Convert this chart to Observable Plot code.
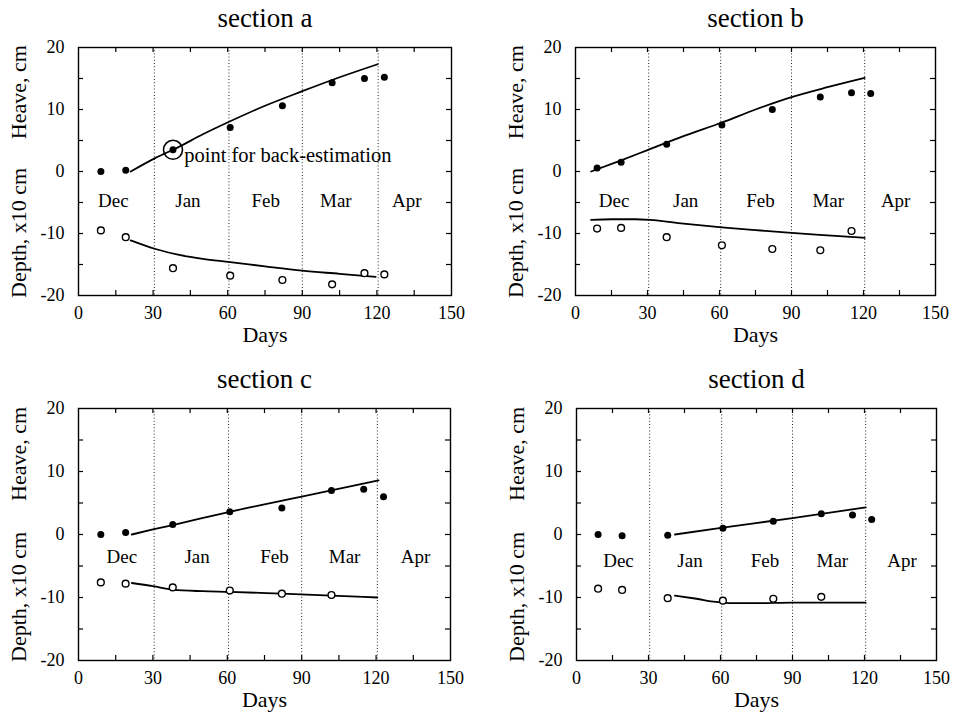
<!DOCTYPE html>
<html>
<head>
<meta charset="utf-8">
<script src="https://cdn.jsdelivr.net/npm/d3@7"></script>
<script src="https://cdn.jsdelivr.net/npm/@observablehq/plot@0.6"></script>
<style>
  html, body { margin: 0; padding: 0; background: #fff; }
  #wrap { position: relative; width: 974px; height: 713px; overflow: hidden; }
  .panel { position: absolute; }
</style>
</head>
<body>
<div id="wrap"></div>
<script>
// ---------- data ----------
const sectionTitles = ["section a", "section b", "section c", "section d"];
const xTickLabels = [0, 30, 60, 90, 120, 150];
const yTickLabels = [-20, -10, 0, 10, 20];
const xMinorTicks = [15, 30, 45, 60, 75, 90, 105, 120, 135];
const yMinorTicks = [-15, -10, -5, 0, 5, 10, 15];
const monthNames = ["Dec", "Jan", "Feb", "Mar", "Apr"];
const monthBounds = [30.5, 60.5, 90, 120.5];
const yLabelTexts = ["Heave, cm", "Depth, x10 cm"];
const yLabelAt = [12.8, -9.9];
const annotationText = "point for back-estimation";

// measurement days
const measuredDays = [9, 19, 38, 61, 82, 102, 115, 123];

// measured heave (filled dots) and frost depth (open dots)
const heaveA = [0, 0.2, 3.5, 7.1, 10.6, 14.3, 15.0, 15.2];
const depthA = [-9.5, -10.6, -15.6, -16.8, -17.5, -18.2, -16.4, -16.6];
const heaveB = [0.55, 1.5, 4.4, 7.5, 10.0, 12.0, 12.7, 12.6];
const depthB = [-9.2, -9.1, -10.6, -11.9, -12.5, -12.7, -9.6];
const heaveC = [0, 0.3, 1.6, 3.6, 4.2, 7.0, 7.2, 6.0];
const depthC = [-7.6, -7.8, -8.4, -8.9, -9.4, -9.6];
const heaveD = [0, -0.2, -0.1, 1.0, 2.1, 3.3, 3.1, 2.4];
const depthD = [-8.6, -8.8, -10.1, -10.5, -10.2, -9.9];

// calculated curves
const calcHeaveDaysA = [21, 31, 40, 50, 61, 75, 90, 105, 120.3];
const calcHeaveA = [0, 2.2, 3.9, 6.0, 8.1, 10.6, 12.95, 15.2, 17.3];
const calcDepthDaysA = [21, 31, 41, 50, 61, 75, 90, 105, 119.5];
const calcDepthA = [-11.1, -12.5, -13.5, -14.1, -14.6, -15.3, -16.0, -16.5, -17.0];

const calcHeaveDaysB = [6.5, 19, 30, 45, 61, 75, 90, 105, 120.5];
const calcHeaveB = [0, 1.8, 3.45, 5.7, 7.9, 10.0, 12.0, 13.6, 15.1];
const calcDepthDaysB = [6.5, 15, 25, 31, 45, 61, 75, 90, 105, 120.5];
const calcDepthB = [-7.8, -7.7, -7.7, -7.8, -8.4, -9.0, -9.45, -9.9, -10.3, -10.7];

const calcHeaveDaysC = [21.5, 30, 38, 61, 90, 121];
const calcHeaveC = [0, 0.8, 1.5, 3.6, 6.0, 8.6];
const calcDepthDaysC = [21.5, 30, 38, 50, 61, 82, 102, 120.5];
const calcDepthC = [-7.7, -8.2, -8.75, -9.0, -9.1, -9.4, -9.7, -10.0];

const calcHeaveDaysD = [41, 61, 90, 120.5];
const calcHeaveD = [0, 1.1, 2.6, 4.3];
const calcDepthDaysD = [41, 50, 58, 65, 75, 90, 120.5];
const calcDepthD = [-9.7, -10.2, -10.7, -10.9, -10.9, -10.8, -10.8];

// month label positions (day) per panel and their level
const monthDaysA = [14, 44, 75.3, 103.5, 132];
const monthDaysB = [16.1, 45.9, 77.1, 105.3, 133.4];
const monthDaysC = [17.5, 47.8, 79, 107.3, 135.9];
const monthDaysD = [17.5, 47.3, 78.5, 106.6, 135.6];
const monthLevel = [-4.8, -4.8, -3.6, -4.2];

// ---------- layout ----------
const layouts = [
  {left: 0,   top: 0,   width: 487, height: 356, ml: 78, mr: 36, mt: 47, mb: 61},
  {left: 487, top: 0,   width: 487, height: 356, ml: 88, mr: 39, mt: 47, mb: 61},
  {left: 0,   top: 356, width: 487, height: 357, ml: 78, mr: 37, mt: 52, mb: 53},
  {left: 487, top: 356, width: 487, height: 357, ml: 89, mr: 38, mt: 52, mb: 53}
];

const zipXY = (xs, ys) => ys.map((v, i) => ({x: xs[i], y: v}));

const panels = [
  {heave: heaveA, depth: depthA, ch: [calcHeaveDaysA, calcHeaveA], cd: [calcDepthDaysA, calcDepthA], months: monthDaysA, annotate: true},
  {heave: heaveB, depth: depthB, ch: [calcHeaveDaysB, calcHeaveB], cd: [calcDepthDaysB, calcDepthB], months: monthDaysB},
  {heave: heaveC, depth: depthC, ch: [calcHeaveDaysC, calcHeaveC], cd: [calcDepthDaysC, calcDepthC], months: monthDaysC},
  {heave: heaveD, depth: depthD, ch: [calcHeaveDaysD, calcHeaveD], cd: [calcDepthDaysD, calcDepthD], months: monthDaysD}
];

const FONT = "'Liberation Serif', 'Times New Roman', 'DejaVu Serif', serif";
const wrap = document.getElementById("wrap");

panels.forEach((p, i) => {
  const L = layouts[i];
  const W = L.width - L.ml - L.mr;
  const H = L.height - L.mt - L.mb;
  const heavePts = zipXY(measuredDays, p.heave);
  const depthPts = zipXY(measuredDays, p.depth);
  const heaveLine = zipXY(p.ch[0], p.ch[1]);
  const depthLine = zipXY(p.cd[0], p.cd[1]);
  const months = monthNames.map((m, k) => ({x: p.months[k], y: monthLevel[i], t: m}));
  const ylabs = yLabelTexts.map((t, k) => ({y: yLabelAt[k], t}));

  const marks = [
    Plot.ruleX(monthBounds, {stroke: "#222", strokeWidth: 1, strokeDasharray: "1,2.2"}),
    // inward ticks, all four sides
    Plot.tickX(xMinorTicks, {x: d => d, insetTop: H - 5, stroke: "#000", strokeWidth: 1.2}),
    Plot.tickX(xMinorTicks, {x: d => d, insetBottom: H - 5, stroke: "#000", strokeWidth: 1.2}),
    Plot.tickY(yMinorTicks, {y: d => d, insetRight: W - 5, stroke: "#000", strokeWidth: 1.2}),
    Plot.tickY(yMinorTicks, {y: d => d, insetLeft: W - 5, stroke: "#000", strokeWidth: 1.2}),
    // tick labels
    Plot.axisX(xTickLabels, {anchor: "bottom", tickSize: 0, tickPadding: 11, fontSize: 18, tickFormat: d => String(d), label: null, fill: "#000"}),
    Plot.axisY(yTickLabels, {anchor: "left", tickSize: 0, tickPadding: 14, fontSize: 18, tickFormat: d => String(d), label: null, fill: "#000"}),
    // axis titles
    Plot.text(["Days"], {frameAnchor: "bottom", dy: 46, lineAnchor: "bottom", fontSize: 22, fill: "#000"}),
    Plot.text(ylabs, {y: "y", text: "t", frameAnchor: "left", dx: -60, rotate: -90, textAnchor: "middle", lineAnchor: "middle", fontSize: 22, fill: "#000"}),
    Plot.text([sectionTitles[i]], {frameAnchor: "top", dy: -21, lineAnchor: "bottom", fontSize: 27, fill: "#000"}),
    // month names
    Plot.text(months, {x: "x", y: "y", text: "t", fontSize: 19, fill: "#000", lineAnchor: "middle"}),
    // model curves
    Plot.line(heaveLine, {x: "x", y: "y", curve: "monotone-x", stroke: "#000", strokeWidth: 1.8}),
    Plot.line(depthLine, {x: "x", y: "y", curve: "monotone-x", stroke: "#000", strokeWidth: 1.8}),
    // measured points
    Plot.dot(heavePts, {x: "x", y: "y", r: 3.5, fill: "#000", stroke: "none"}),
    Plot.dot(depthPts, {x: "x", y: "y", r: 3.4, fill: "#fff", stroke: "#000", strokeWidth: 1.4}),
    Plot.frame({stroke: "#000", strokeWidth: 1.4})
  ];
  if (p.annotate) {
    const bp = [{x: measuredDays[2], y: p.heave[2]}];
    marks.push(Plot.dot(bp, {x: "x", y: "y", r: 9.5, fill: "none", stroke: "#000", strokeWidth: 1.6}));
    marks.push(Plot.text([{x: 42.5, y: 1.5, t: annotationText}], {x: "x", y: "y", text: "t", textAnchor: "start", lineAnchor: "bottom", fontSize: 20.5, fill: "#000"}));
  }

  const chart = Plot.plot({
    width: L.width,
    height: L.height,
    marginLeft: L.ml,
    marginRight: L.mr,
    marginTop: L.mt,
    marginBottom: L.mb,
    style: {fontFamily: FONT, background: "#fff", color: "#000", overflow: "visible"},
    x: {domain: [0, 150], axis: null},
    y: {domain: [-20, 20], axis: null},
    marks
  });
  const div = document.createElement("div");
  div.className = "panel";
  div.style.left = L.left + "px";
  div.style.top = L.top + "px";
  div.appendChild(chart);
  wrap.appendChild(div);
});
</script>
</body>
</html>
